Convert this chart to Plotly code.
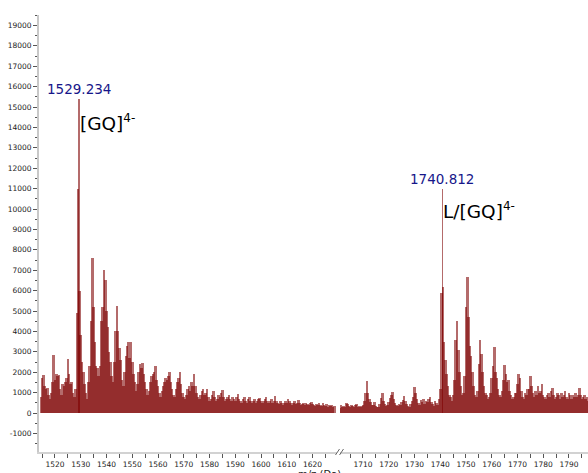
import numpy as np
import plotly.graph_objects as go

# Profile spectrum sampled every 0.5 m/z on two separate windows
STEP = 0.5
LEFT_START = 1514.5
RIGHT_START = 1701.0

left_intensity = [
    800, 1700, 1850, 1300, 1200, 1250, 900, 700, 1000, 1500,
    2850, 1600, 1900, 1800, 1850, 1200, 900, 1400, 1300, 1500,
    1700, 2650, 1900, 1400, 1500, 1000, 800, 1200, 4900, 11000,
    6000, 3800, 2500, 2000, 1400, 1000, 700, 1500, 2300, 4500,
    7600, 5200, 3500, 2300, 2200, 1800, 2300, 4500, 5200, 7000,
    6500, 5000, 4200, 3000, 2500, 1800, 1500, 2500, 4000, 5250,
    4000, 3200, 2600, 1600, 1300, 2000, 2800, 3300, 3500, 2700,
    3500, 2500, 1900, 1500, 1100, 1400, 2000, 2400, 2200, 2450,
    1900, 1500, 1200, 900, 1100, 1500, 1800, 1900, 2000, 2300,
    1600, 1300, 1000, 800, 1100, 1300, 1500, 1700, 1600, 1800,
    2000, 1500, 1200, 900, 800, 1200, 1500, 1700, 2000, 1400,
    1000, 800, 700, 900, 1200, 1300, 1100, 1500, 1300, 1900,
    1300, 1000, 800, 700, 900, 1100, 1200, 900, 1000, 1200,
    800, 600, 700, 900, 1100, 800, 600, 700, 900, 800,
    1000, 1150, 800, 600, 700, 800, 900, 700, 600, 800,
    700, 600, 800, 950, 700, 600, 500, 700, 800, 600,
    500, 700, 800, 600, 500, 600, 700, 500, 600, 700,
    750, 600, 500, 600, 700, 800, 600, 500, 600, 700,
    500, 600, 850, 600, 500, 450, 600, 500, 400, 500,
    600, 500, 700, 600, 500, 400, 500, 600, 450, 500,
    650, 500, 400, 450, 500, 400, 500, 450, 400, 500,
    550, 450, 400, 350, 450, 400, 500, 400, 350, 500,
    400, 350, 450, 300, 400, 350, 400, 300, 350,
]

right_intensity = [
    250, 400, 300, 350, 300, 500, 450, 350, 300, 400,
    350, 300, 400, 450, 300, 350, 300, 350, 400, 600,
    1000, 1570, 1000, 700, 550, 400, 400, 550, 350, 300,
    300, 450, 750, 1000, 600, 450, 350, 400, 550, 750,
    900, 1030, 700, 500, 400, 350, 450, 400, 550, 650,
    830, 600, 450, 350, 300, 450, 600, 800, 1270, 1000,
    700, 500, 400, 650, 550, 700, 450, 600, 550, 700,
    800, 550, 450, 350, 600, 500, 400, 700, 1200, 5900,
    6200, 3500, 2600, 1900, 1300, 900, 800, 600, 900, 1600,
    3600, 4500, 3100, 2000, 1300, 900, 1000, 1800, 5200, 6650,
    4700, 3300, 2800, 2000, 1300, 900, 800, 1100, 2400, 3600,
    2900, 2000, 1300, 1000, 900, 700, 800, 1000, 1700, 2300,
    3250, 2000, 1700, 1200, 900, 800, 1100, 1600, 2350, 1900,
    1500, 1600, 1100, 900, 700, 800, 1000, 1000, 1400, 1900,
    1700, 1100, 800, 700, 1000, 900, 1200, 1200, 1800, 1300,
    1000, 800, 1100, 900, 1300, 1000, 1100, 1400, 900, 800,
    700, 900, 1000, 800, 1100, 1220, 900, 700, 800, 1000,
    900, 700, 1000, 800, 900, 1100, 800, 700, 1000, 900,
    700, 900, 800, 1000, 800, 900, 1240, 900, 700, 800,
    900, 700, 800, 600,
]

# Labelled apex peaks
peak_mz = [1529.234, 1740.812]
peak_intensity = [15400, 11000]
peak_names = ["[GQ]<sup><span style='font-size:12px'>4-</span></sup>",
              "L/[GQ]<sup><span style='font-size:12px'>4-</span></sup>"]
peak_axes = ["x", "x2"]
name_levels = [14250, 9950]

y_ticks = list(range(-1000, 19001, 1000))
y_tick_text = [str(v) for v in y_ticks]
left_ticks = list(range(1520, 1621, 10))
right_ticks = list(range(1710, 1791, 10))

left_mz = LEFT_START + STEP * np.arange(len(left_intensity))
right_mz = RIGHT_START + STEP * np.arange(len(right_intensity))

BAR_COLOR = "rgba(125,0,0,0.58)"
AXIS_FONT = dict(family="DejaVu Sans", size=7.5, color="#222222")

fig = go.Figure()
fig.add_trace(go.Bar(x=left_mz, y=left_intensity, width=1.0, xaxis="x", yaxis="y",
                     marker=dict(color=BAR_COLOR, line=dict(width=0)), showlegend=False))
fig.add_trace(go.Bar(x=right_mz, y=right_intensity, width=1.0, xaxis="x2", yaxis="y",
                     marker=dict(color=BAR_COLOR, line=dict(width=0)), showlegend=False))
for mz, inten, ax in zip(peak_mz, peak_intensity, peak_axes):
    fig.add_trace(go.Bar(x=[mz], y=[inten], width=0.6, xaxis=ax, yaxis="y",
                         marker=dict(color=BAR_COLOR, line=dict(width=0)), showlegend=False))

annotations = []
for mz, inten, name, ax, lvl in zip(peak_mz, peak_intensity, peak_names, peak_axes, name_levels):
    annotations.append(dict(x=mz, y=inten, xref=ax, yref="y", text=f"{mz:.3f}",
                            showarrow=False, yanchor="bottom",
                            font=dict(family="DejaVu Sans", size=13.5, color="#16168a")))
    annotations.append(dict(x=mz, y=lvl, xref=ax, yref="y", text=name, showarrow=False,
                            xanchor="left", yanchor="middle", xshift=-1,
                            font=dict(family="DejaVu Sans", size=18.5, color="#000000")))
annotations.append(dict(x=(319 - 39) / 549, y=(452 - 467) / 437, xref="paper", yref="paper",
                        text="m/z (Da)", showarrow=False, yanchor="top",
                        font=dict(family="DejaVu Sans", size=10, color="#222222")))

axis_common = dict(showgrid=False, zeroline=False, showline=True, linecolor="#d2d2d2",
                   linewidth=2, ticks="outside", ticklen=4, tickcolor="#555555",
                   tickfont=AXIS_FONT,
                   minor=dict(dtick=5, ticks="outside", ticklen=4, tickcolor="#555555"))

fig.update_layout(
    width=588, height=473,
    margin=dict(l=39, r=0, t=15, b=21),
    paper_bgcolor="white", plot_bgcolor="white",
    barmode="overlay", bargap=0,
    xaxis=dict(domain=[0, (337 - 39) / 549], range=[1513.79, 1629.5], anchor="y",
               tickvals=left_ticks, **axis_common),
    xaxis2=dict(domain=[(340 - 39) / 549, 1], range=[1701.07, 1797.4], anchor="y",
                tickvals=right_ticks, **axis_common),
    yaxis=dict(range=[-1912, 19510], anchor="x", showgrid=False, zeroline=False,
               showline=True, linecolor="#c8c8c8", linewidth=2,
               ticks="outside", ticklen=4, tickcolor="#555555",
               tickvals=y_ticks, ticktext=y_tick_text, tickfont=AXIS_FONT,
               minor=dict(dtick=500, ticks="outside", ticklen=2, tickcolor="#555555")),
    annotations=annotations,
    shapes=[
        dict(type="line", xref="paper", yref="paper",
             x0=(335.5 - 39) / 549, x1=(339.5 - 39) / 549,
             y0=(452 - 455) / 437, y1=(452 - 449) / 437,
             line=dict(color="#666666", width=1)),
        dict(type="line", xref="paper", yref="paper",
             x0=(339.5 - 39) / 549, x1=(343.5 - 39) / 549,
             y0=(452 - 455) / 437, y1=(452 - 449) / 437,
             line=dict(color="#666666", width=1)),
    ],
)

fig.write_html("out.html")
